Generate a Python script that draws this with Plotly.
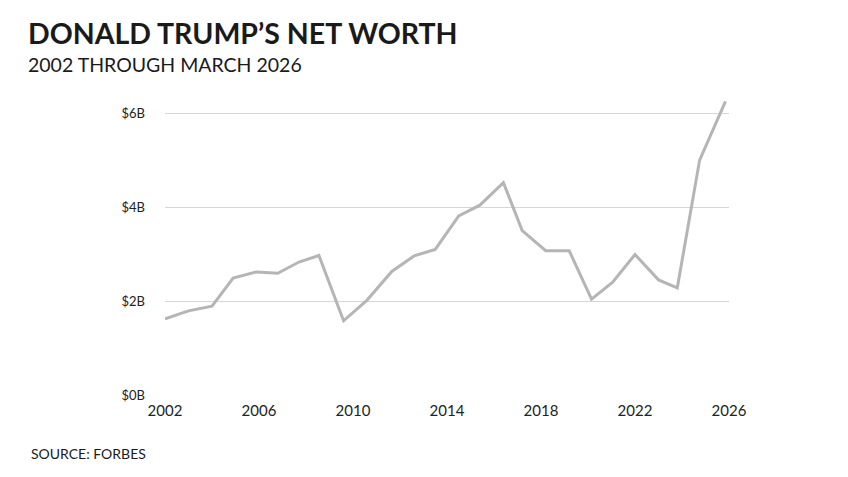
import plotly.graph_objects as go

# Data (decimal year of estimate, net worth in $B)
years = [2002.0, 2003.0, 2004.0, 2004.9, 2005.9, 2006.8, 2007.7, 2008.55, 2009.6,
         2010.6, 2011.65, 2012.6, 2013.5, 2014.5, 2015.4, 2016.4, 2017.2, 2018.2,
         2019.2, 2020.15, 2021.05, 2022.0, 2023.0, 2023.8, 2024.75, 2025.85]
net_worth = [1.62, 1.79, 1.89, 2.49, 2.62, 2.59, 2.83, 2.97, 1.58,
             2.02, 2.63, 2.96, 3.10, 3.81, 4.04, 4.52, 3.50, 3.07,
             3.07, 2.04, 2.40, 2.99, 2.45, 2.28, 5.00, 6.25]
x_ticks = [2002, 2006, 2010, 2014, 2018, 2022, 2026]
y_ticks = [0, 2, 4, 6]
y_labels = ["$0B", "$2B", "$4B", "$6B"]

title = "DONALD TRUMP\u2019S NET WORTH"
subtitle = "2002 THROUGH MARCH 2026"
source = "SOURCE: FORBES"

fig = go.Figure()
fig.add_trace(go.Scatter(
    x=years, y=net_worth, mode="lines",
    line=dict(color="#b5b5b5", width=3),
    hoverinfo="skip", showlegend=False,
))

OFF = 8  # page body margin
W, H = 848 - OFF, 477 - OFF
# target plot area in page pixels
PL, PR, PT, PB = 164.5, 729, 99, 395
L, T = PL - OFF, PT - OFF
R = W - (PR - OFF)
B = H - (PB - OFF)
ph = PB - PT
pw = PR - PL

def px(x):
    return (x - PL) / pw

def py(y):
    return (PB - y) / ph

fig.update_layout(
    width=W, height=H,
    margin=dict(l=L, r=R, t=T, b=B, pad=0),
    paper_bgcolor="white", plot_bgcolor="white",
    font=dict(family="Lato, sans-serif", color="#222"),
    xaxis=dict(
        range=[2002, 2026], tickvals=x_ticks, ticktext=[str(t) for t in x_ticks],
        showgrid=False, zeroline=False, showline=False, ticks="",
        tickfont=dict(size=15, color="#222"), ticklabelstandoff=5,
        fixedrange=True,
    ),
    yaxis=dict(
        range=[0, 6.3], tickvals=y_ticks, ticktext=y_labels,
        showgrid=True, gridcolor="#d6d6d6", gridwidth=1,
        zeroline=False, showline=False, ticks="",
        tickfont=dict(size=13, color="#222"), ticklabelstandoff=19,
        fixedrange=True,
    ),
    annotations=[
        dict(text="<b>" + title + "</b>", xref="paper", yref="paper",
             x=px(25), y=py(33), xanchor="left", yanchor="middle",
             showarrow=False, font=dict(size=28.5, color="#1a1a1a", family="Lato, sans-serif")),
        dict(text=subtitle, xref="paper", yref="paper",
             x=px(25), y=py(64), xanchor="left", yanchor="middle",
             showarrow=False, font=dict(size=19.5, color="#1a1a1a", family="Lato, sans-serif")),
        dict(text=source, xref="paper", yref="paper",
             x=px(28), y=py(453), xanchor="left", yanchor="middle",
             showarrow=False, font=dict(size=14, color="#1a1a1a", family="Lato, sans-serif")),
    ],
)

fig.write_html("out.html", config={"displayModeBar": False})
